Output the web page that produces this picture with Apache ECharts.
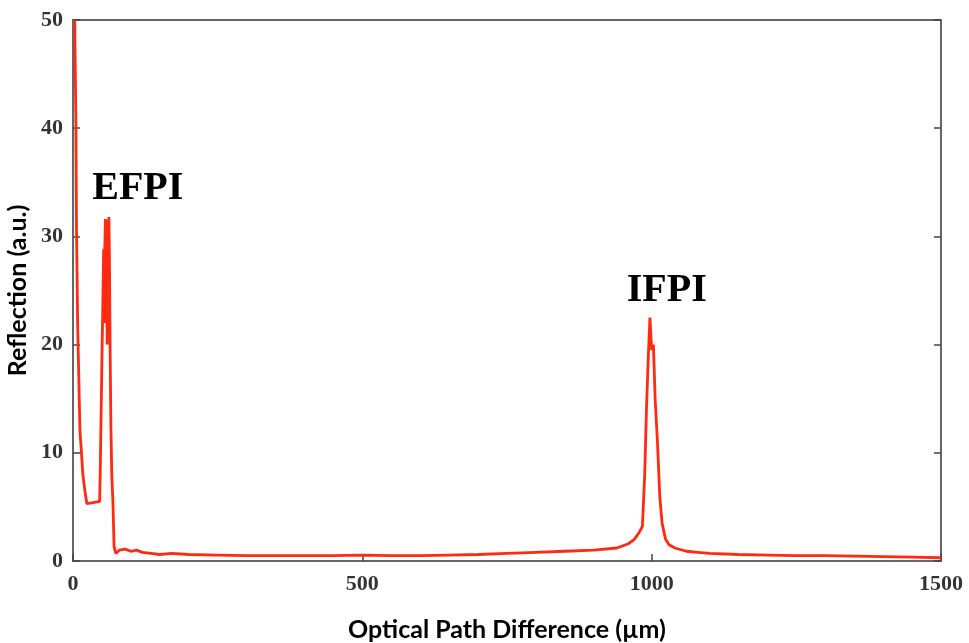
<!DOCTYPE html>
<html><head><meta charset="utf-8">
<script src="https://cdn.jsdelivr.net/npm/echarts@6/dist/echarts.min.js"></script>
<style>html,body{margin:0;padding:0;background:#fff}#c{width:969px;height:643px}</style>
</head><body><div id="c"></div>
<script>
const opdValues = [3,5,6,8,12,14,17,21,24,35,46,47,48.5,50,51.5,53,54,55,56,57,58,59,60,61,62,63,64,65.5,67,69,71,74,80,90,100,110,120,135,150,170,200,250,300,350,400,450,500,550,600,650,700,750,800,850,900,940,960,970,978,984,988,991,994,997,1000,1003,1006,1010,1014,1018,1024,1030,1040,1060,1080,1100,1150,1200,1250,1300,1350,1400,1450,1500];
const reflectionValues = [50,40.5,31,22,12,10.5,8,6.3,5.3,5.4,5.5,8,13.3,18.6,23.5,28.8,22,29,31.6,25,30,20,31.5,26,31.8,28,20.5,12.4,8,5.4,1.3,0.7,1.0,1.1,0.9,1.0,0.8,0.7,0.6,0.7,0.6,0.55,0.5,0.5,0.5,0.5,0.55,0.5,0.5,0.55,0.6,0.7,0.8,0.9,1.0,1.2,1.6,2.0,2.6,3.2,8,14,18.6,22.5,19.5,20,15,11,6,3.5,2,1.5,1.2,0.9,0.8,0.7,0.6,0.55,0.5,0.5,0.45,0.4,0.35,0.3];
const xTicks = {min:0, max:1500, interval:500};
const yTicks = {min:0, max:50, interval:10};
const peakLabels = [{name:'EFPI', coord:[112, 34.4]}, {name:'IFPI', coord:[1026, 25.0]}];

const data = opdValues.map((x,i)=>[x, reflectionValues[i]]);
const chart = echarts.init(document.getElementById('c'), null, {renderer:'canvas'});
const axisLine = {show:true, onZero:false, lineStyle:{color:'#666', width:2}};
const tickLabel = {fontFamily:'Liberation Serif', fontWeight:'bold', fontSize:22, color:'#333', formatter:v=>String(v)};
chart.setOption({
  animation:false,
  grid:{left:73, right:28, top:20, bottom:82, containLabel:false, outerBoundsMode:'none'},
  xAxis:[
    {type:'value', min:xTicks.min, max:xTicks.max, interval:xTicks.interval,
     name:'Optical Path Difference (µm)', nameLocation:'middle', nameGap:56,
     nameTextStyle:{fontFamily:'Lato', fontWeight:'bold', fontSize:25, color:'#000'},
     axisLine:axisLine, axisTick:{show:true, inside:true, length:7, lineStyle:{color:'#444', width:1.5}},
     axisLabel:Object.assign({margin:12}, tickLabel), splitLine:{show:false}},
    {type:'value', position:'top', min:xTicks.min, max:xTicks.max, interval:xTicks.interval,
     axisLine:axisLine, axisTick:{show:false}, axisLabel:{show:false}, splitLine:{show:false}}
  ],
  yAxis:[
    {type:'value', min:yTicks.min, max:yTicks.max, interval:yTicks.interval,
     name:'Reflection (a.u.)', nameLocation:'middle', nameGap:38,
     nameTextStyle:{fontFamily:'Lato', fontWeight:'bold', fontSize:25, color:'#000'},
     axisLine:axisLine, axisTick:{show:true, inside:true, length:7, lineStyle:{color:'#444', width:1.5}},
     axisLabel:Object.assign({margin:10}, tickLabel), splitLine:{show:false}},
    {type:'value', position:'right', min:yTicks.min, max:yTicks.max, interval:yTicks.interval,
     axisLine:axisLine, axisTick:{show:true, inside:true, length:7, lineStyle:{color:'#444', width:1.5}},
     axisLabel:{show:false}, splitLine:{show:false}}
  ],
  series:[{
    type:'line', data:data, showSymbol:false, symbol:'none',
    lineStyle:{color:'#ff2a10', width:2.8}, clip:true,
    markPoint:{
      symbol:'circle', symbolSize:0, silent:true,
      label:{show:true, position:'inside', formatter:'{b}', fontFamily:'Liberation Serif', fontWeight:'bold', fontSize:40, color:'#000'},
      data:peakLabels.map(p=>({name:p.name, coord:p.coord}))
    }
  }]
});
</script></body></html>
